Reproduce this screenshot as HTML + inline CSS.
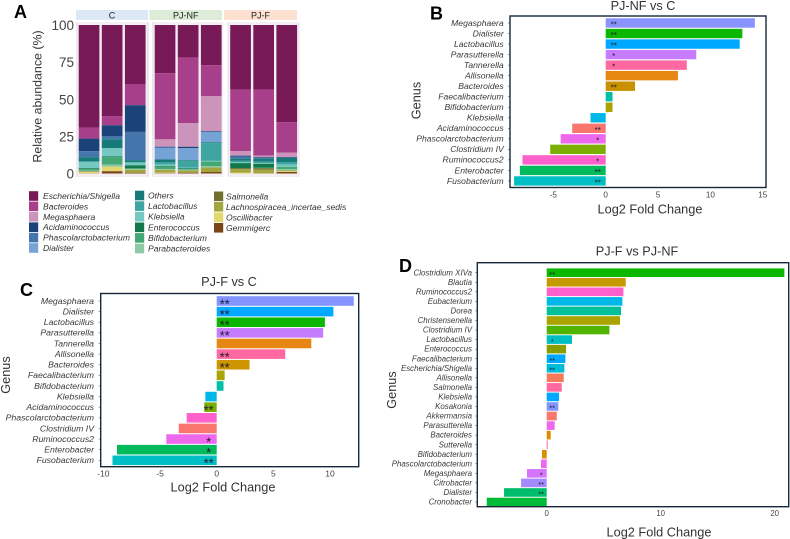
<!DOCTYPE html>
<html lang="en">
<head>
<meta charset="utf-8">
<title>Microbiome composition and differential abundance</title>
<style>
  html, body { margin: 0; padding: 0; background: #fff; }
  #figure { display: block; width: 790px; height: 539px; filter: blur(0.35px); font-family: "Liberation Sans", sans-serif; }
  text { font-family: "Liberation Sans", sans-serif; }
</style>
</head>
<body>
<svg id="figure" xmlns="http://www.w3.org/2000/svg" width="790" height="539" viewBox="0 0 790 539"></svg>
<script>
/* ---------- Panel A data ---------- */
const taxa = ["Escherichia/Shigella","Bacteroides","Megasphaera","Acidaminococcus","Phascolarctobacterium","Dialister","Others","Lactobacillus","Klebsiella","Enterococcus","Bifidobacterium","Parabacteroides","Salmonella","Lachnospiracea_incertae_sedis","Oscillibacter","Gemmigerc"];
const taxaColors = ["#781a58","#a83f8a","#cc93bb","#1a4379","#4476ab","#76a3d6","#167a78","#3fa5a0","#76c9c0","#12784c","#43a873","#8cc9a4","#70702c","#a3a63e","#e3d86e","#7a4516"];
const groupLabels = ["C","PJ-NF","PJ-F"];
const abundanceTicks = [100,75,50,25,0];
const sampleC1  = [69,7.5,0,8.5,4,0,3,0,4.5,0.5,1,0.5,0.3,0.2,0.9,0.1];
const sampleC2  = [61.5,6,0,7.5,2,0,6,0,5.5,0.5,5,1.5,0,0,3,1.5];
const sampleC3  = [40,14,0,18,19,0,1.5,0,2,2,0.5,0.5,0,2,0,0.5];
const sampleNF1 = [32.5,44.5,5,0.5,0,8,2,1.5,1,0.5,1.5,0.5,0,2,0.3,0.2];
const sampleNF2 = [22,44,16,1,0,8,0.5,4.5,0.5,0.5,0.5,0.5,0,1.5,0,0.5];
const sampleNF3 = [27,21,23.5,0.5,0,7,0.5,12,0.5,0,3,1,0,3,0,1];
const sampleF1  = [43.5,41.5,3,0.7,1.3,0,1.5,1,0.5,3.5,0,0,0.5,2.5,0.5,0];
const sampleF2  = [43.5,44.5,1,0.5,0.5,0,2,1,0.5,2.5,0.5,0,1,2.5,0,0];
const sampleF3  = [65.5,20.5,3,0.5,0,0,3,1.5,1.5,0,1.5,1,0,0.5,0.5,1];
const samples = [[sampleC1,sampleC2,sampleC3],[sampleNF1,sampleNF2,sampleNF3],[sampleF1,sampleF2,sampleF3]];

/* ---------- Panel B data ---------- */
const genusB = ["Megasphaera","Dialister","Lactobacillus","Parasutterella","Tannerella","Allisonella","Bacteroides","Faecalibacterium","Bifidobacterium","Klebsiella","Acidaminococcus","Phascolarctobacterium","Clostridium IV","Ruminococcus2","Enterobacter","Fusobacterium"];
const log2fcB = [14.25,13.05,12.8,8.65,7.75,6.9,2.8,0.65,0.65,-1.45,-3.2,-4.3,-5.3,-7.95,-8.2,-8.75];
const starsB = ["**","**","**","*","*","","**","","","","**","*","","*","**","**"];
const colorsB = ["#8a94ff","#0cb702","#00a9ff","#c77cff","#ff68a1","#e68613","#c99000","#00bfa5","#aba300","#00b8e7","#f8766d","#ed68ed","#7cae00","#ff61cc","#00ba5c","#00bfc4"];
const ticksB = [-5,0,5,10,15];

/* ---------- Panel C data ---------- */
const genusC = ["Megasphaera","Dialister","Lactobacillus","Parasutterella","Tannerella","Allisonella","Bacteroides","Faecalibacterium","Bifidobacterium","Klebsiella","Acidaminococcus","Phascolarctobacterium","Clostridium IV","Ruminococcus2","Enterobacter","Fusobacterium"];
const log2fcC = [12.1,10.3,9.55,9.4,8.35,6.05,2.9,0.7,0.6,-1,-1.1,-2.65,-3.35,-4.45,-8.8,-9.2];
const starsC = ["**","**","**","**","","**","**","","","","**","","","*","*","**"];
const colorsC = ["#8494ff","#00a9ff","#0cb702","#c77cff","#e68613","#ff68a1","#cd9600","#aba300","#00bfa5","#00b8e7","#7cae00","#ff61cc","#f8766d","#ed68ed","#00ba5c","#00bfc4"];
const ticksC = [-10,-5,0,5,10];

/* ---------- Panel D data ---------- */
const genusD = ["Clostridium XIVa","Blautia","Ruminococcus2","Eubacterium","Dorea","Christensenella","Clostridium IV","Lactobacillus","Enterococcus","Faecalibacterium","Escherichia/Shigella","Allisonella","Salmonella","Klebsiella","Kosakonia","Akkermansia","Parasutterella","Bacteroides","Sutterella","Bifidobacterium","Phascolarctobacterium","Megasphaera","Citrobacter","Dialister","Cronobacter"];
const log2fcD = [20.85,6.93,6.73,6.64,6.52,6.43,5.5,2.22,1.7,1.64,1.55,1.49,1.32,1.08,1.02,0.88,0.7,0.35,0.09,-0.41,-0.5,-1.73,-2.25,-3.74,-5.26];
const starsD = ["**","","","","","","","*","","**","**","","","","**","","","","","","","*","**","**",""];
const colorsD = ["#0cb702","#c49a00","#ff61cc","#00b8e7","#00c19a","#aba300","#53b400","#00bfc4","#8b9d00","#00a9ff","#00bcd8","#f37b59","#ff68a1","#00a9ff","#8494ff","#f8766d","#ed68ed","#de8c00","#ff68a1","#de8c00","#ed68ed","#d575fe","#a58aff","#00bd6c","#00ba38"];
const ticksD = [0,10,20];

/* ---------- helpers ---------- */
const NS = "http://www.w3.org/2000/svg";
const root = document.getElementById("figure");

function shape(tag, props, parent) {
  const el = document.createElementNS(NS, tag);
  for (const k in props) el.setAttribute(k, props[k]);
  (parent || root).appendChild(el);
  return el;
}
function label(str, x, y, size, props, parent) {
  const el = shape("text", Object.assign({ x: x, y: y, "font-size": size, fill: "#333" }, props || {}), parent);
  el.textContent = str;
  return el;
}
function slug(str) {
  return str.toLowerCase().replace(/[^a-z0-9]+/g, "-");
}

/* ---------- panel letters ---------- */
const panelLetters = [["A",14,18],["B",430,19.5],["C",20,296],["D",399,272]];
panelLetters.forEach(function (p) {
  const el = label(p[0], p[1], p[2], 18, { "font-weight": "bold", fill: "#000" });
  
  
});

/* ---------- Panel A ---------- */
(function () {
  const g = shape("g", {});
  
  
  const yBase = 173.5, yScale = 1.485;
  const y = function (v) { return yBase - v * yScale; };
  const groupX = [76, 152, 227.5];
  const groupW = [73, 71, 72];
  const stripX = [76, 149.5, 224];
  const stripW = [72, 72.5, 73];
  const barOffset = 2.7, barW = 20.7, barStep = 23.1;

  samples.forEach(function (grp, gi) {
    const bg = shape("rect", { x: groupX[gi], y: 22, width: groupW[gi], height: 155, fill: "#e9e7ea" }, g);
    
    

    const stripColors = ["#dce8f5", "#dcecd6", "#fde0d0"];
    const strip = shape("rect", { x: stripX[gi], y: 10, width: stripW[gi], height: 10, fill: stripColors[gi] }, g);
    
    

    const st = label(groupLabels[gi], stripX[gi] + stripW[gi] / 2, 18.7, 9, { "text-anchor": "middle", fill: "#222" }, g);
    
    

    grp.forEach(function (sample, si) {
      const x = groupX[gi] + barOffset + si * barStep;
      const gapBar = shape("rect", { x: x - 1.2, y: 22, width: barW + 2.4, height: 155, fill: "#f6eef5" }, g);
      
      
      let top = 100;
      sample.forEach(function (val, ti) {
        if (val <= 0) return;
        const bottom = top - val;
        const seg = shape("rect", { x: x, y: y(top), width: barW, height: val * yScale, fill: taxaColors[ti] }, g);
        
        
        top = bottom;
      });
    });
  });

  abundanceTicks.forEach(function (t) {
    const el = label(String(t), 74, y(t) + 5, 13.5, { "text-anchor": "end", fill: "#444" }, g);
    
    
  });
  const yt = label("Relative abundance (%)", 0, 0, 12.4, { "text-anchor": "middle", transform: "translate(41.5,96.5) rotate(-90)", fill: "#333" }, g);
  
  

  /* legend */
  const legendColX = [29, 135, 214];
  const legendTextX = [43, 148, 226];
  const legendRows = [6, 6, 4];
  const legendTop = [196, 195.5, 196.3];
  const legendStep = [10.4, 10.6, 10.5];
  let ti = 0;
  legendRows.forEach(function (n, c) {
    for (let r = 0; r < n; r++, ti++) {
      const yy = legendTop[c] + r * legendStep[c];
      const sw = shape("rect", { x: legendColX[c], y: yy - 4.8, width: 9.2, height: 9.6, fill: taxaColors[ti] });
      
      
      const tx = label(taxa[ti], legendTextX[c], yy + 3, 8.55, { "font-style": "italic", fill: "#333" });
      
      
    }
  });
})();

/* ---------- Panels B, C, D ---------- */
function drawBars(cfg) {
  const g = shape("g", {});
  
  
  const x = function (v) { return cfg.zero + v * cfg.unit; };
  const y = function (i) { return cfg.firstRow + i * cfg.rowStep; };

  const plot = shape("rect", { x: cfg.left, y: cfg.top, width: cfg.right - cfg.left, height: cfg.bottom - cfg.top, fill: "#fff" }, g);
  
  

  cfg.values.forEach(function (v, i) {
    const bar = shape("rect", {
      x: Math.min(x(0), x(v)), y: y(i) - cfg.barH / 2,
      width: Math.abs(x(v) - x(0)), height: cfg.barH, fill: cfg.colors[i]
    }, g);
    
    

    const name = label(cfg.genus[i], cfg.labelX, y(i) + cfg.labelSize * 0.33, cfg.labelSize, { "text-anchor": "end", "font-style": "italic", fill: "#3a3a3a" }, g);
    
    

    const tick = shape("line", { x1: cfg.left - 2, x2: cfg.left, y1: y(i), y2: y(i), stroke: "#555", "stroke-width": 0.6 }, g);
    
    

    if (cfg.stars[i]) {
      const sx = v >= 0 ? x(0) + cfg.starOffset : x(0) - cfg.starOffset;
      const star = label(cfg.stars[i], sx, y(i) + cfg.starSize * 0.56, cfg.starSize, { "text-anchor": "middle", fill: "#1a1a2a" }, g);
      
      
    }
  });

  const frame = shape("rect", { x: cfg.left, y: cfg.top, width: cfg.right - cfg.left, height: cfg.bottom - cfg.top, fill: "none", stroke: "#17293a", "stroke-width": 1.4 }, g);
  
  

  cfg.ticks.forEach(function (t) {
    const el = label(String(t), x(t), cfg.tickY, cfg.tickSize, { "text-anchor": "middle", fill: "#444" }, g);
    
    
  });

  const title = label(cfg.title, cfg.titleX, cfg.titleY, 12.7, { "text-anchor": "middle", fill: "#333" }, g);
  
  

  const xt = label("Log2 Fold Change", cfg.xTitleX, cfg.xTitleY, 12.75, { "text-anchor": "middle", fill: "#333" }, g);
  
  

  const yt = label("Genus", 0, 0, 12.7, { "text-anchor": "middle", transform: "translate(" + cfg.yTitleX + "," + cfg.yTitleY + ") rotate(-90)", fill: "#333" }, g);
  
  
}

drawBars({
  id: "panel-b", genus: genusB, values: log2fcB, stars: starsB, colors: colorsB, ticks: ticksB,
  left: 510, right: 766, top: 16, bottom: 187.5,
  zero: 605.7, unit: 10.47, firstRow: 23, rowStep: 10.53, barH: 9.4,
  labelX: 503.7, labelSize: 8.6, starSize: 8, starOffset: 8,
  tickY: 197.5, tickSize: 8.2, title: "PJ-NF vs C", titleX: 643, titleY: 10,
  xTitleX: 650, xTitleY: 213.5, yTitleX: 420.5, yTitleY: 100.5
});
drawBars({
  id: "panel-c", genus: genusC, values: log2fcC, stars: starsC, colors: colorsC, ticks: ticksC,
  left: 100.7, right: 358.7, top: 293.5, bottom: 466.7,
  zero: 216.7, unit: 11.33, firstRow: 301, rowStep: 10.62, barH: 9.6,
  labelX: 94, labelSize: 8.7, starSize: 13, starOffset: 8,
  tickY: 476.5, tickSize: 8.5, title: "PJ-F vs C", titleX: 229, titleY: 286,
  xTitleX: 223, xTitleY: 491.5, yTitleX: 10, yTitleY: 375
});
drawBars({
  id: "panel-d", genus: genusD, values: log2fcD, stars: starsD, colors: colorsD, ticks: ticksD,
  left: 477.3, right: 788.7, top: 262.7, bottom: 506.7,
  zero: 546.7, unit: 11.4, firstRow: 272.7, rowStep: 9.555, barH: 8.6,
  labelX: 472, labelSize: 7.9, starSize: 7.5, starOffset: 5.5,
  tickY: 516, tickSize: 7.8, title: "PJ-F vs PJ-NF", titleX: 637, titleY: 255.5,
  xTitleX: 659, xTitleY: 536.5, yTitleX: 396, yTitleY: 390
});
</script>
</body>
</html>
